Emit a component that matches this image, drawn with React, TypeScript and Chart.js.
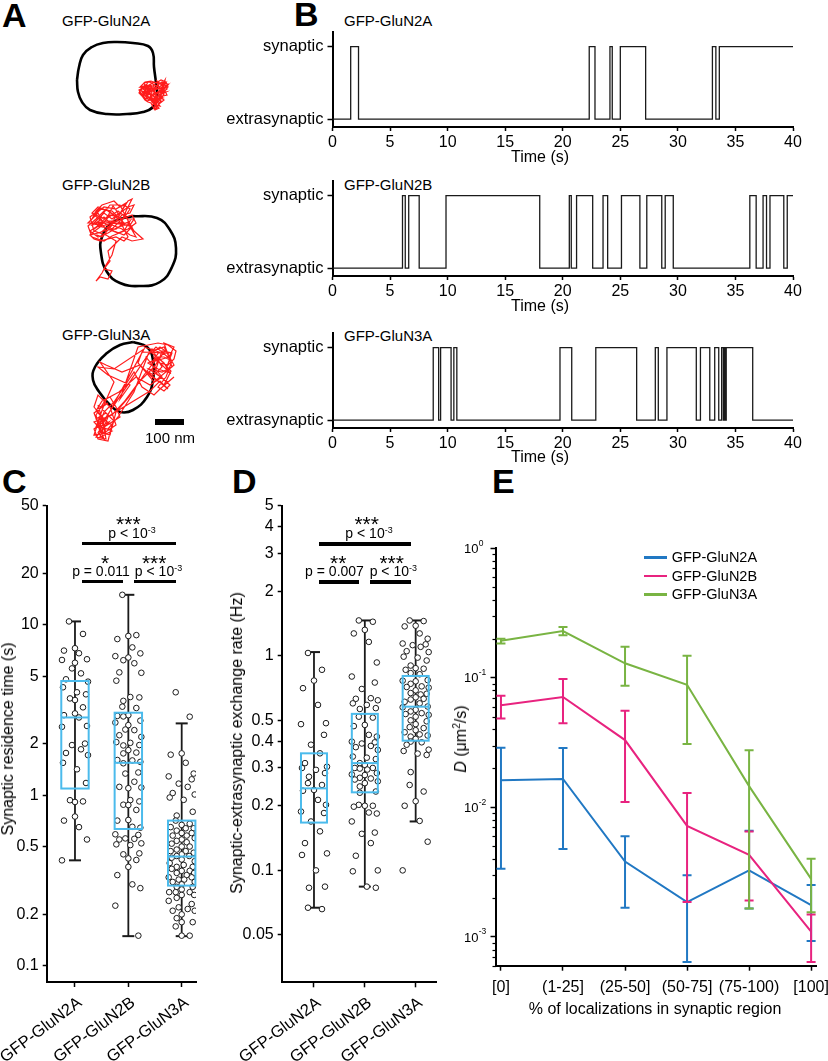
import React, { useEffect, useRef } from 'react';
import { Chart, registerables } from 'chart.js';

Chart.register(...registerables);

const FONT = "'Liberation Sans', Arial, Helvetica, sans-serif";
Chart.defaults.font.family = FONT;
Chart.defaults.color = '#000';

// ---------------- Panel A: single-particle trajectories (units: 29 units = 100 nm) ----------------
const SCALE_BAR_UNITS = 29; // = 100 nm
const glun2aContour = [[-40,2],[-38,-11],[-34,-23],[-25,-31],[-14,-35],[0,-36],[16,-35],[31,-32],[36,-25],[37,-11],[39,5],[40,19],[36,29],[26,34],[10,36],[-10,36],[-27,32],[-35,24],[-39,14]];
const glun2aTrack = [[24,10],[30,6],[27,14],[33,11],[29,18],[35,15],[31,8],[26,16],[34,20],[38,13],[36,6],[42,9],[40,3],[45,7],[48,2],[46,11],[50,8],[44,15],[49,14],[41,18],[46,20],[39,22],[43,25],[37,19],[40,28],[36,25],[42,30],[38,32],[35,27],[41,24],[33,22],[28,20],[23,14],[25,8],[31,12],[36,10],[32,16],[37,17],[43,12],[47,16],[44,21],[38,24],[34,18],[29,10],[27,5],[33,4],[39,8],[45,4],[51,6],[47,10],[42,17],[36,21],[30,23],[26,19],[22,12],[28,9],[35,13],[40,15],[45,18],[41,21],[37,26],[33,16],[29,13],[39,11],[44,10],[30,14],[26,11],[32,7],[37,4],[43,6],[47,4],[50,11],[46,14],[42,20],[39,26],[37,30],[41,27],[44,23],[40,19],[35,22],[31,19],[27,17],[24,12],[29,7],[34,9],[38,16],[42,13],[48,9],[45,12],[41,8],[36,12],[33,14],[30,17],[35,24],[39,29],[38,21],[43,16],[46,6],[40,11],[32,10],[28,15],[25,13],[36,18],[42,22],[45,24],[39,18],[34,7],[23,9],[28,4],[34,3],[39,5],[44,2],[49,4],[51,9],[48,13],[50,17],[46,18],[43,19],[47,22],[42,26],[39,31],[36,29],[34,25],[31,24],[28,22],[25,18],[22,15],[24,11],[27,8],[30,10],[33,8],[36,8],[39,10],[42,11],[45,9],[48,6],[44,13],[41,15],[38,19],[35,17],[32,20],[29,16],[26,14],[30,20],[35,20],[40,24],[43,28],[38,27],[36,23]];
const glun2bContour = [[-5,-35],[19,-33],[32,-21],[38,-3],[34,16],[22,31],[2,35],[-18,32],[-31,21],[-37,2],[-36,-14],[-25,-29]];
const glun2bTrack = [[-48,-30],[-40,-38],[-35,-28],[-44,-22],[-30,-35],[-25,-45],[-20,-38],[-28,-25],[-38,-18],[-22,-30],[-15,-42],[-10,-50],[-6,-52],[-12,-40],[-18,-25],[-8,-30],[-14,-20],[-26,-15],[-34,-10],[-46,-14],[-50,-25],[-42,-32],[-32,-42],[-24,-36],[-16,-32],[-6,-36],[-2,-28],[-10,-22],[-20,-18],[-30,-22],[-40,-28],[-36,-36],[-28,-46],[-18,-46],[-12,-34],[-4,-20],[5,-12],[-6,-10],[-16,-14],[-24,-6],[-30,0],[-28,10],[-34,18],[-26,20],[-30,28],[-38,26],[-42,30],[-36,22],[-32,14],[-26,4],[-22,-10],[-32,-16],[-44,-20],[-48,-34],[-38,-42],[-26,-40],[-14,-28],[-22,-22],[-36,-24],[-44,-28],[-30,-30],[-20,-30],[-46,-26],[-40,-32],[-34,-38],[-26,-32],[-18,-38],[-10,-44],[-4,-46],[-8,-38],[-16,-36],[-24,-28],[-32,-26],[-42,-24],[-48,-20],[-40,-14],[-30,-18],[-20,-24],[-12,-26],[-6,-24],[-14,-16],[-24,-20],[-36,-30],[-44,-36],[-34,-44],[-22,-42],[-12,-48],[-20,-34],[-28,-36],[-38,-24],[-46,-18],[-36,-14],[-26,-26],[-16,-22],[-8,-16],[-2,-14],[-10,-28],[-50,-28],[-46,-32],[-42,-40],[-36,-46],[-30,-48],[-24,-50],[-18,-44],[-14,-46],[-8,-42],[-12,-36],[-18,-30],[-26,-22],[-34,-20],[-40,-18],[-48,-16],[-44,-12],[-38,-10],[-30,-12],[-22,-14],[-14,-10],[-10,-14],[-16,-26],[-22,-34],[-30,-40],[-40,-44],[-46,-38],[-38,-34],[-32,-32],[-26,-36],[-20,-40],[-10,-32],[-4,-32],[-8,-26],[-28,-28],[-34,-34],[-42,-28]];
const glun3aContour = [[9,-35],[23,-30],[29,-17],[29,3],[23,20],[9,33],[-4,35],[-14,28],[-24,16],[-31,3],[-29,-10],[-17,-24],[-4,-32]];
const glun3aTrack = [[20,-30],[35,-25],[28,-15],[45,-20],[50,-30],[40,-34],[48,-10],[38,-5],[25,-8],[44,5],[50,0],[36,12],[30,18],[18,10],[10,-5],[0,10],[-10,25],[-20,35],[-25,50],[-15,45],[-28,60],[-18,62],[-22,40],[-30,30],[-26,18],[-14,30],[-8,48],[-20,56],[-30,45],[-12,38],[0,25],[15,5],[30,-10],[42,-28],[46,-18],[32,-30],[22,-20],[38,0],[26,8],[12,0],[-5,15],[-18,22],[-28,38],[-24,55],[-14,58],[-8,35],[5,20],[20,-2],[34,-20],[47,-6],[40,8],[28,0],[16,-12],[-2,-5],[-18,-12],[-24,-15],[-10,5],[-20,28],[-28,50],[-16,52],[-6,40],[10,15],[25,-25],[40,-30],[50,-12],[30,5],[14,-14],[18,-25],[44,-24],[36,-30],[28,-24],[40,-14],[46,-4],[34,-8],[24,-14],[32,-18],[42,-8],[48,-24],[38,-26],[30,-2],[22,-6],[44,12],[36,4],[26,14],[-20,42],[-26,46],[-16,40],[-24,60],[-12,54],[-22,50],[-28,42],[-18,36],[-10,44],[-24,30],[-16,26],[-30,36],[-20,62],[-26,56],[20,-28],[-10,-8],[-26,-10],[-16,-2],[6,8],[-4,22],[14,-30],[24,-32],[34,-34],[44,-32],[52,-26],[50,-18],[44,-12],[36,-14],[30,-20],[40,-20],[48,-16],[42,0],[34,10],[40,14],[46,8],[32,-4],[38,-10],[28,-28],[-22,46],[-30,52],[-26,62],[-16,64],[-12,48],[-18,44],[-28,34],[-22,24],[-14,20],[-8,30],[-4,40],[-20,50],[-24,40],[-30,58],[-18,56],[-26,28]];

// ---------------- Panel B: synaptic / extrasynaptic state vs time ----------------
const TIME_TICKS = [0, 5, 10, 15, 20, 25, 30, 35, 40];
const STATE_LABELS = ['extrasynaptic', 'synaptic'];
const TRACE_END = 40;
const glun2aSwitches = [1.58, 2.26, 22.3, 22.8, 24.1, 24.3, 25.0, 27.2, 33.0, 33.3, 33.6];
const glun2bSwitches = [6.08, 6.32, 6.62, 7.53, 9.86, 18.0, 20.57, 20.74, 21.2, 22.6, 23.5, 23.9, 25.1, 26.7, 27.3, 28.6, 28.9, 29.6, 36.25, 36.8, 37.4, 37.7, 38.0, 39.2, 39.5];
const glun3aSwitches = [8.75, 9.22, 9.39, 10.3, 10.54, 10.8, 19.76, 20.78, 22.87, 26.42, 28.04, 28.3, 29.05, 31.6, 31.96, 32.77, 33.2, 33.55, 33.8, 33.95, 34.05, 34.1, 34.2, 36.5];

// ---------------- Panel C: synaptic residence time (s) ----------------
const GROUPS = ['GFP-GluN2A', 'GFP-GluN2B', 'GFP-GluN3A'];
const residenceTicks = [0.1, 0.2, 0.5, 1, 2, 5, 10, 20, 50];
const glun2aResidence = [10.47, 8.84, 7.29, 7.06, 6.81, 6.28, 6.22, 5.99, 5.55, 5.19, 4.79, 4.64, 4.3, 4.02, 3.91, 3.7, 3.62, 3.28, 3.02, 2.95, 2.86, 2.55, 2.52, 2.01, 1.97, 1.86, 1.77, 1.72, 1.55, 1.42, 1.18, 0.935, 0.913, 0.92, 0.75, 0.71, 0.65, 0.55, 0.415];
const glun2bResidence = [15.0, 8.7, 8.6, 8.25, 7.37, 6.8, 6.55, 6.43, 6.2, 5.95, 5.26, 5.23, 4.7, 3.77, 3.75, 3.58, 3.31, 3.25, 2.95, 2.92, 2.9, 2.74, 2.67, 2.58, 2.43, 2.41, 2.25, 2.2, 2.05, 2.03, 1.97, 1.96, 1.84, 1.78, 1.76, 1.61, 1.6, 1.57, 1.54, 1.36, 1.34, 1.2, 1.12, 1.11, 1.1, 0.937, 0.92, 0.88, 0.876, 0.82, 0.716, 0.71, 0.653, 0.645, 0.59, 0.585, 0.558, 0.555, 0.55, 0.522, 0.515, 0.51, 0.456, 0.45, 0.426, 0.417, 0.38, 0.34, 0.3, 0.285, 0.225, 0.15];
const glun3aResidence = [4.02, 2.89, 1.76, 1.73, 1.55, 1.34, 1.29, 1.24, 1.17, 1.12, 1.03, 1.01, 0.97, 0.94, 0.8, 0.76, 0.71, 0.68, 0.67, 0.65, 0.64, 0.64, 0.62, 0.6, 0.6, 0.58, 0.58, 0.56, 0.55, 0.54, 0.53, 0.52, 0.5, 0.5, 0.48, 0.47, 0.47, 0.46, 0.45, 0.44, 0.44, 0.43, 0.42, 0.41, 0.4, 0.39, 0.38, 0.38, 0.37, 0.36, 0.36, 0.35, 0.35, 0.34, 0.33, 0.33, 0.32, 0.32, 0.31, 0.31, 0.3, 0.29, 0.29, 0.28, 0.27, 0.27, 0.27, 0.26, 0.26, 0.25, 0.24, 0.23, 0.22, 0.215, 0.21, 0.21, 0.2, 0.19, 0.18, 0.18, 0.17, 0.15, 0.15];
const residenceLow = [0.415, 0.149, 0.149];
const residenceQ1 = [1.095, 0.634, 0.295];
const residenceMedian = [2.86, 1.55, 0.437];
const residenceQ3 = [4.68, 3.05, 0.71];
const residenceHigh = [10.47, 15.0, 2.64];

// ---------------- Panel D: synaptic-extrasynaptic exchange rate (Hz) ----------------
const rateTicks = [0.05, 0.1, 0.2, 0.3, 0.4, 0.5, 1, 2, 3, 4, 5];
const glun2aRate = [1.03, 0.86, 0.766, 0.706, 0.59, 0.485, 0.48, 0.428, 0.385, 0.351, 0.316, 0.304, 0.3, 0.294, 0.284, 0.273, 0.255, 0.25, 0.237, 0.235, 0.213, 0.202, 0.188, 0.185, 0.169, 0.152, 0.134, 0.12, 0.118, 0.1, 0.084, 0.083, 0.067, 0.066];
const glun2bRate = [1.46, 1.44, 1.32, 1.27, 1.16, 0.93, 0.8, 0.75, 0.7, 0.634, 0.63, 0.62, 0.6, 0.59, 0.57, 0.565, 0.52, 0.515, 0.476, 0.47, 0.428, 0.42, 0.398, 0.395, 0.39, 0.38, 0.375, 0.364, 0.339, 0.335, 0.33, 0.316, 0.31, 0.3, 0.3, 0.298, 0.295, 0.284, 0.28, 0.278, 0.27, 0.268, 0.265, 0.26, 0.255, 0.246, 0.233, 0.23, 0.202, 0.2, 0.2, 0.198, 0.186, 0.184, 0.169, 0.15, 0.148, 0.134, 0.117, 0.1, 0.099, 0.084, 0.083];
const glun3aRate = [1.46, 1.45, 1.38, 1.37, 1.27, 1.2, 1.14, 1.13, 1.12, 1.1, 1.05, 1.04, 0.99, 0.98, 0.95, 0.9, 0.875, 0.87, 0.86, 0.83, 0.82, 0.77, 0.765, 0.76, 0.74, 0.72, 0.715, 0.71, 0.69, 0.67, 0.665, 0.66, 0.64, 0.63, 0.625, 0.61, 0.6, 0.58, 0.575, 0.56, 0.55, 0.54, 0.535, 0.53, 0.52, 0.5, 0.495, 0.48, 0.465, 0.46, 0.45, 0.44, 0.43, 0.425, 0.42, 0.41, 0.398, 0.395, 0.385, 0.365, 0.36, 0.35, 0.345, 0.287, 0.25, 0.233, 0.21, 0.2, 0.17, 0.136, 0.1];
const rateLow = [0.067, 0.084, 0.169];
const rateQ1 = [0.167, 0.231, 0.402];
const rateMedian = [0.241, 0.316, 0.579];
const rateQ3 = [0.351, 0.536, 0.805];
const rateHigh = [1.04, 1.46, 1.46];

// ---------------- Panel E: diffusion coefficient vs % synaptic localizations ----------------
const LOC_BINS = ['[0]', '(1-25]', '(25-50]', '(50-75]', '(75-100)', '[100]'];
const D_MAJOR_TICKS = [1e-3, 1e-2, 1e-1, 1];
const glun2aD = [0.0162, 0.0166, 0.00382, 0.00186, 0.00326, 0.00176];
const glun2aDLow = [0.00336, 0.00478, 0.00168, 0.00064, 0.00166, 0.00093];
const glun2aDHigh = [0.0289, 0.0288, 0.006, 0.003, 0.0066, 0.00252];
const glun2bD = [0.0614, 0.0711, 0.0331, 0.0072, 0.0043, 0.0011];
const glun2bDLow = [0.0485, 0.0446, 0.011, 0.00186, 0.00191, 0.00064];
const glun2bDHigh = [0.0727, 0.098, 0.0558, 0.0129, 0.00653, 0.00149];
const glun3aD = [0.193, 0.23, 0.1295, 0.0884, 0.0146, 0.00281];
const glun3aDLow = [0.184, 0.213, 0.0868, 0.0309, 0.00166, 0.00155];
const glun3aDHigh = [0.2, 0.247, 0.174, 0.148, 0.0276, 0.00401];

// ---------------- styles ----------------
const BOX_BLUE = '#4bbbec';
const C_BLUE = '#2178c3';
const C_MAGENTA = '#e8237f';
const C_GREEN = '#79b443';

// ---------------- helpers ----------------
const clearPad = (s: any) => { s.paddingLeft = 0; s.paddingRight = 0; s.paddingTop = 0; s.paddingBottom = 0; };
const fixW = (w: number) => (s: any) => { s.width = w; clearPad(s); };
const fixH = (h: number) => (s: any) => { s.height = h; clearPad(s); };
const axisGrid = (len: number) => ({ display: true, drawOnChartArea: false, drawTicks: true, tickLength: len, tickColor: '#000', tickWidth: 1.5, color: '#000' });
const axisBorder = { display: true, color: '#000', width: 2 };
const baseOpts = { animation: false, responsive: false, maintainAspectRatio: false, events: [], plugins: { legend: { display: false }, tooltip: { enabled: false } } };

function stepPoints(switches: number[], end: number) {
  const pts: any[] = [{ x: 0, y: 0 }];
  let s = 0;
  for (const t of switches) {
    pts.push({ x: t, y: s });
    s = 1 - s;
    pts.push({ x: t, y: s });
  }
  pts.push({ x: end, y: s });
  return pts;
}

const SWARM_START = [-6, 8, 0, -11, 4, 12, -13, 10, -3, 6, -9, 13, -12, 2, 11, -5];
const SWARM_STEPS = [0, -5, 5, -10, 10, -2.5, 2.5, -7.5, 7.5, -12.5, 12.5];
function swarm(values: number[], pxPerDecade: number, minDist: number) {
  const placed: any[] = [];
  return values.map((v, i) => {
    const py = Math.log10(v) * pxPerDecade;
    const cands = [SWARM_START[i % SWARM_START.length], ...SWARM_STEPS];
    let best = cands[0];
    let bestD = -1;
    for (const c of cands) {
      let d = Infinity;
      for (const p of placed) d = Math.min(d, Math.hypot(p.x - c, p.y - py));
      if (d >= minDist) { best = c; bestD = d; break; }
      if (d > bestD) { bestD = d; best = c; }
    }
    placed.push({ x: best, y: py });
    return best;
  });
}

function trajConfig(contour: number[][], track: number[][], xr: number[], yr: number[]) {
  const closed = [...contour, contour[0]];
  return {
    type: 'scatter',
    data: {
      datasets: [
        { data: track.map(([x, y]) => ({ x, y })), showLine: true, borderColor: '#ff1c1c', borderWidth: 1.2, pointRadius: 0, tension: 0 },
        { data: closed.map(([x, y]) => ({ x, y })), showLine: true, borderColor: '#000', borderWidth: 2.6, pointRadius: 0, tension: 0.45 },
      ],
    },
    options: {
      ...baseOpts,
      layout: { padding: 0 },
      scales: {
        x: { type: 'linear', display: false, min: xr[0], max: xr[1] },
        y: { type: 'linear', display: false, min: yr[0], max: yr[1], reverse: true },
      },
    },
  };
}

function traceConfig(switches: number[]) {
  return {
    type: 'scatter',
    data: { datasets: [{ data: stepPoints(switches, TRACE_END), showLine: true, borderColor: '#1a1a1a', borderWidth: 1.3, pointRadius: 0 }] },
    options: {
      ...baseOpts,
      layout: { padding: { left: 0, top: 10, right: 35, bottom: 0 } },
      scales: {
        x: {
          type: 'linear', min: 0, max: TRACE_END,
          afterFit: fixH(24),
          afterBuildTicks: (s: any) => { s.ticks = TIME_TICKS.map((v) => ({ value: v })); },
          ticks: { font: { size: 16 }, padding: 2, maxRotation: 0, autoSkip: false },
          grid: axisGrid(4), border: axisBorder,
        },
        y: {
          type: 'linear', min: -0.107, max: 1.2,
          afterFit: fixW(112.5),
          afterBuildTicks: (s: any) => { s.ticks = [{ value: 0 }, { value: 1 }]; },
          ticks: { font: { size: 16.5 }, padding: 4, callback: (v: any) => STATE_LABELS[v] },
          grid: axisGrid(5), border: axisBorder,
        },
      },
    },
  };
}

function boxConfig(p: any) {
  const groups = [p.a, p.b, p.c];
  const pts: any[] = [];
  groups.forEach((vals: number[], g: number) => {
    const offs = swarm(vals, p.pxPerDecade, 5);
    vals.forEach((v, i) => pts.push({ x: g + offs[i] / p.pxPerCat, y: v }));
  });
  const plugin = {
    id: 'boxes',
    beforeDatasetsDraw(chart: any) {
      const { ctx, scales: { x, y } } = chart;
      ctx.save();
      ctx.strokeStyle = '#1a1a1a';
      p.low.forEach((lo: number, i: number) => {
        const cx = x.getPixelForValue(i);
        const y1 = y.getPixelForValue(lo);
        const y2 = y.getPixelForValue(p.high[i]);
        ctx.lineWidth = 1.8;
        ctx.beginPath(); ctx.moveTo(cx, y1); ctx.lineTo(cx, y2); ctx.stroke();
        ctx.lineWidth = 2;
        for (const yy of [y1, y2]) { ctx.beginPath(); ctx.moveTo(cx - 6, yy); ctx.lineTo(cx + 6, yy); ctx.stroke(); }
      });
      ctx.restore();
    },
    afterDatasetsDraw(chart: any) {
      const { ctx, scales: { x, y } } = chart;
      ctx.save();
      ctx.strokeStyle = BOX_BLUE;
      ctx.lineWidth = 2;
      p.q1.forEach((q1: number, i: number) => {
        const cx = x.getPixelForValue(i);
        const yq1 = y.getPixelForValue(q1);
        const yq3 = y.getPixelForValue(p.q3[i]);
        const ym = y.getPixelForValue(p.med[i]);
        ctx.strokeRect(cx - p.halfW, yq3, 2 * p.halfW, yq1 - yq3);
        ctx.beginPath(); ctx.moveTo(cx - p.halfW, ym); ctx.lineTo(cx + p.halfW, ym); ctx.stroke();
      });
      ctx.restore();
    },
  };
  return {
    type: 'scatter',
    data: { datasets: [{ data: pts, pointRadius: 2.8, borderWidth: 1, borderColor: '#1a1a1a', backgroundColor: '#fff', pointHoverRadius: 0 }] },
    options: {
      ...baseOpts,
      layout: { padding: { left: 0, top: p.padTop, right: p.padRight, bottom: 0 } },
      scales: {
        x: {
          type: 'linear', min: p.xMin, max: p.xMax,
          afterFit: fixH(p.xH),
          afterBuildTicks: (s: any) => { s.ticks = [0, 1, 2].map((v) => ({ value: v })); },
          ticks: { font: { size: 16.5 }, padding: 6, minRotation: 37, maxRotation: 37, labelOffset: 5, autoSkip: false, callback: (v: any) => GROUPS[v] },
          grid: axisGrid(5), border: axisBorder,
        },
        y: {
          type: 'logarithmic', min: p.yMin, max: p.yMax,
          afterFit: fixW(p.yW),
          afterBuildTicks: (s: any) => { s.ticks = p.ticks.map((v: number) => ({ value: v })); },
          ticks: { font: { size: 16 }, padding: 4, autoSkip: false, callback: (v: any) => String(v) },
          grid: axisGrid(4), border: axisBorder,
        },
      },
    },
    plugins: [plugin],
  };
}

function diffusionConfig() {
  const series = [
    { d: glun3aD, lo: glun3aDLow, hi: glun3aDHigh, color: C_GREEN },
    { d: glun2bD, lo: glun2bDLow, hi: glun2bDHigh, color: C_MAGENTA },
    { d: glun2aD, lo: glun2aDLow, hi: glun2aDHigh, color: C_BLUE },
  ];
  const plugin = {
    id: 'errbars',
    afterDatasetsDraw(chart: any) {
      const { ctx, scales: { x, y }, chartArea: ca } = chart;
      ctx.save();
      ctx.beginPath();
      ctx.rect(ca.left - 10, ca.top - 5, ca.right - ca.left + 20, ca.bottom - ca.top + 5.5);
      ctx.clip();
      ctx.lineWidth = 2;
      [...series].reverse().forEach((s) => {
        ctx.strokeStyle = s.color;
        s.d.forEach((_v: number, i: number) => {
          const cx = x.getPixelForValue(i);
          const y1 = y.getPixelForValue(Math.max(s.lo[i], y.min));
          const y2 = y.getPixelForValue(s.hi[i]);
          ctx.beginPath(); ctx.moveTo(cx, y1); ctx.lineTo(cx, y2); ctx.stroke();
          for (const yy of [y1, y2]) { ctx.beginPath(); ctx.moveTo(cx - 4.5, yy); ctx.lineTo(cx + 4.5, yy); ctx.stroke(); }
        });
      });
      ctx.restore();
    },
    afterDraw(chart: any) {
      const { ctx, scales: { y }, chartArea: ca } = chart;
      const x0 = ca.left;
      ctx.save();
      ctx.strokeStyle = '#000';
      ctx.lineWidth = 1.2;
      for (let e = -4; e <= 0; e++) {
        for (let k = 2; k <= 9; k++) {
          const v = k * Math.pow(10, e);
          if (v < y.min || v > y.max) continue;
          const py = Math.round(y.getPixelForValue(v)) + 0.5;
          ctx.beginPath(); ctx.moveTo(x0 - 3.5, py); ctx.lineTo(x0, py); ctx.stroke();
        }
      }
      ctx.fillStyle = '#000';
      ctx.textBaseline = 'middle';
      D_MAJOR_TICKS.forEach((v) => {
        const py = y.getPixelForValue(v);
        ctx.font = `13px ${FONT}`;
        ctx.textAlign = 'right';
        ctx.fillText('10', x0 - 17.5, py + 1);
        ctx.font = `8.5px ${FONT}`;
        ctx.textAlign = 'left';
        ctx.fillText(String(Math.round(Math.log10(v))), x0 - 17.3, py - 5);
      });
      ctx.restore();
    },
  };
  return {
    type: 'scatter',
    data: {
      datasets: series.map((s) => ({
        data: s.d.map((v: number, i: number) => ({ x: i, y: v })),
        showLine: true, borderColor: s.color, borderWidth: 2, pointRadius: 0, tension: 0,
      })),
    },
    options: {
      ...baseOpts,
      layout: { padding: { left: 0, top: 18.3, right: 11.3, bottom: 0 } },
      scales: {
        x: {
          type: 'linear', min: -0.08, max: 5.09,
          afterFit: fixH(95.3),
          afterBuildTicks: (s: any) => { s.ticks = LOC_BINS.map((_b, i) => ({ value: i })); },
          ticks: { font: { size: 16 }, padding: 7, maxRotation: 0, autoSkip: false, callback: (v: any) => LOC_BINS[v] },
          grid: axisGrid(5), border: axisBorder,
        },
        y: {
          type: 'logarithmic', min: 6.35e-4, max: 1,
          afterFit: fixW(56),
          afterBuildTicks: (s: any) => { s.ticks = D_MAJOR_TICKS.map((v) => ({ value: v })); },
          ticks: { display: false },
          grid: axisGrid(5.5), border: axisBorder,
        },
      },
    },
    plugins: [plugin],
  };
}

// ---------------- components ----------------
function ChartCanvas({ left, top, width, height, make }: any) {
  const ref = useRef<HTMLCanvasElement | null>(null);
  useEffect(() => {
    const chart = new Chart(ref.current as any, make() as any);
    return () => chart.destroy();
  }, []);
  return (
    <div style={{ position: 'absolute', left, top, width, height }}>
      <canvas ref={ref} width={width} height={height} style={{ width, height, display: 'block' }} />
    </div>
  );
}

function Txt({ x, y, size = 16, anchor = 'start', weight = 'normal', italic = false, children }: any) {
  const tx = anchor === 'middle' ? 'translateX(-50%)' : anchor === 'end' ? 'translateX(-100%)' : 'none';
  return (
    <div style={{ position: 'absolute', left: x, top: y - 0.8465 * size, fontSize: size, lineHeight: `${size}px`, whiteSpace: 'nowrap', fontWeight: weight, fontStyle: italic ? 'italic' : 'normal', transform: tx }}>
      {children}
    </div>
  );
}

function VTxt({ cx, cy, size = 16, children }: any) {
  return (
    <div style={{ position: 'absolute', left: cx, top: cy, fontSize: size, lineHeight: `${size}px`, whiteSpace: 'nowrap', transform: 'translate(-50%, -50%) rotate(-90deg)' }}>
      {children}
    </div>
  );
}

const Sup = ({ children }: any) => <span style={{ fontSize: '0.64em', position: 'relative', top: '-0.55em' }}>{children}</span>;
const Bar = ({ x1, x2, y }: any) => <div style={{ position: 'absolute', left: x1, top: y, width: x2 - x1, height: 3.5, background: '#000' }} />;

export default function App() {
  return (
    <div style={{ position: 'absolute', left: 0, top: 0, width: 828, height: 1061, background: '#fff', overflow: 'hidden', fontFamily: FONT, color: '#000' }}>
      {/* Panel letters */}
      <Txt x={2} y={27} size={34} weight="bold">A</Txt>
      <Txt x={294} y={26} size={34} weight="bold">B</Txt>
      <Txt x={2} y={493} size={34} weight="bold">C</Txt>
      <Txt x={232} y={493} size={34} weight="bold">D</Txt>
      <Txt x={492} y={493} size={34} weight="bold">E</Txt>

      {/* Panel A */}
      <Txt x={62} y={26} size={15}>GFP-GluN2A</Txt>
      <Txt x={62} y={190} size={15}>GFP-GluN2B</Txt>
      <Txt x={62} y={340} size={15}>GFP-GluN3A</Txt>
      <ChartCanvas left={57} top={30} width={120} height={100} make={() => trajConfig(glun2aContour, glun2aTrack, [-60, 60], [-48, 52])} />
      <ChartCanvas left={78} top={190} width={120} height={110} make={() => trajConfig(glun2bContour, glun2bTrack, [-60, 60], [-61, 49])} />
      <ChartCanvas left={64} top={330} width={130} height={115} make={() => trajConfig(glun3aContour, glun3aTrack, [-60, 70], [-47, 68])} />
      <div style={{ position: 'absolute', left: 155, top: 419, width: SCALE_BAR_UNITS, height: 6, background: '#000' }} />
      <Txt x={170} y={443} size={15} anchor="middle">100 nm</Txt>

      {/* Panel B */}
      <Txt x={344} y={26} size={15}>GFP-GluN2A</Txt>
      <Txt x={344} y={189.5} size={15}>GFP-GluN2B</Txt>
      <Txt x={344} y={341} size={15}>GFP-GluN3A</Txt>
      <ChartCanvas left={220} top={21.7} width={608} height={129} make={() => traceConfig(glun2aSwitches)} />
      <ChartCanvas left={220} top={171.3} width={608} height={129} make={() => traceConfig(glun2bSwitches)} />
      <ChartCanvas left={220} top={322.5} width={608} height={129} make={() => traceConfig(glun3aSwitches)} />
      <Txt x={540} y={162.7} size={16} anchor="middle">Time (s)</Txt>
      <Txt x={540} y={312} size={16} anchor="middle">Time (s)</Txt>
      <Txt x={540} y={463} size={16} anchor="middle">Time (s)</Txt>

      {/* Panel C */}
      <ChartCanvas left={0} top={490} width={215} height={571} make={() => boxConfig({
        a: glun2aResidence, b: glun2bResidence, c: glun3aResidence,
        low: residenceLow, q1: residenceQ1, med: residenceMedian, q3: residenceQ3, high: residenceHigh,
        ticks: residenceTicks, yMin: 0.0802, yMax: 50, xMin: -0.53, xMax: 2.268,
        padTop: 15.7, padRight: 19, yW: 46.7, xH: 79, halfW: 13.7, pxPerDecade: 170.4, pxPerCat: 53.35,
      })} />
      <VTxt cx={8} cy={739} size={16}>Synaptic residence time (s)</VTxt>
      <Txt x={128.3} y={531} size={21} anchor="middle">***</Txt>
      <Txt x={132} y={538} size={14} anchor="middle">p &lt; 10<Sup>-3</Sup></Txt>
      <Bar x1={81.7} x2={176} y={541.5} />
      <Txt x={105} y={569.5} size={21} anchor="middle">*</Txt>
      <Txt x={101} y={575.5} size={14} anchor="middle">p = 0.011</Txt>
      <Txt x={154.2} y={569.5} size={21} anchor="middle">***</Txt>
      <Txt x={158.5} y={575.5} size={14} anchor="middle">p &lt; 10<Sup>-3</Sup></Txt>
      <Bar x1={81.7} x2={122.7} y={579.5} />
      <Bar x1={134.3} x2={176} y={579.5} />

      {/* Panel D */}
      <ChartCanvas left={215} top={490} width={230} height={571} make={() => boxConfig({
        a: glun2aRate, b: glun2bRate, c: glun3aRate,
        low: rateLow, q1: rateQ1, med: rateMedian, q3: rateQ3, high: rateHigh,
        ticks: rateTicks, yMin: 0.0301, yMax: 5, xMin: -0.635, xMax: 2.4,
        padTop: 15.7, padRight: 9, yW: 66.7, xH: 78.7, halfW: 13, pxPerDecade: 214.7, pxPerCat: 50.85,
      })} />
      <VTxt cx={236.7} cy={743} size={16}>Synaptic-extrasynaptic exchange rate (Hz)</VTxt>
      <Txt x={366.7} y={531} size={21} anchor="middle">***</Txt>
      <Txt x={369} y={538} size={14} anchor="middle">p &lt; 10<Sup>-3</Sup></Txt>
      <Bar x1={319.3} x2={410.7} y={542.3} />
      <Txt x={338.3} y={569.5} size={21} anchor="middle">**</Txt>
      <Txt x={334.5} y={575.5} size={14} anchor="middle">p = 0.007</Txt>
      <Txt x={391.7} y={569.5} size={21} anchor="middle">***</Txt>
      <Txt x={393.3} y={575.5} size={14} anchor="middle">p &lt; 10<Sup>-3</Sup></Txt>
      <Bar x1={319.3} x2={359.3} y={580} />
      <Bar x1={370} x2={410.7} y={580} />

      {/* Panel E */}
      <ChartCanvas left={440} top={530} width={388} height={531} make={diffusionConfig} />
      <VTxt cx={462} cy={739} size={16}><i>D</i> (μm<Sup>2</Sup>/s)</VTxt>
      <Txt x={655} y={1014.5} size={16} anchor="middle">% of localizations in synaptic region</Txt>
      {[['GFP-GluN2A', C_BLUE, 557.3], ['GFP-GluN2B', C_MAGENTA, 576], ['GFP-GluN3A', C_GREEN, 594.3]].map(([name, color, cy]: any) => (
        <React.Fragment key={name}>
          <div style={{ position: 'absolute', left: 644, top: cy - 1.25, width: 23, height: 2.5, background: color }} />
          <Txt x={671.7} y={cy + 5.1} size={14.5}>{name}</Txt>
        </React.Fragment>
      ))}
    </div>
  );
}
